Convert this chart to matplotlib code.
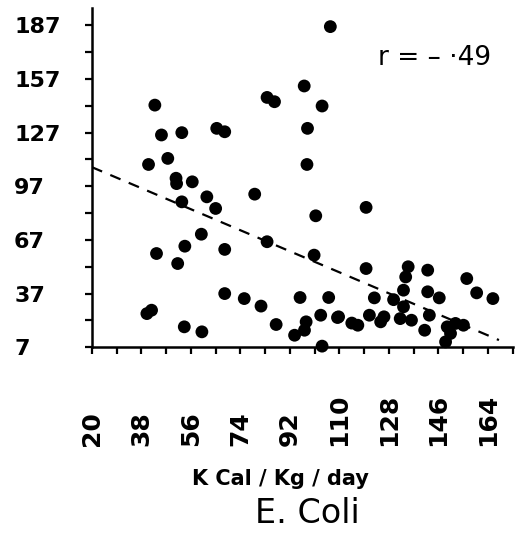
import matplotlib.pyplot as plt

# 数据: 每个点 (K Cal/Kg/day, 计数)
kcal = [106.7, 42.9, 45.3, 52.7, 40.6, 47.6, 50.6, 50.8, 56.5, 52.7,
        61.8, 65.0, 65.4, 68.3, 79.2, 83.7, 86.4, 97.2, 103.7, 98.4,
        98.2, 101.4, 119.7, 59.8, 43.5, 53.8, 51.2, 68.3, 83.7, 100.8,
        119.7, 135.0, 134.1, 142.1, 156.3, 159.9, 165.8, 142.1, 146.3, 133.3,
        129.7, 122.7, 133.3, 109.7, 116.7, 114.5, 120.9, 126.2, 125.0, 132.1,
        136.2, 142.7, 141.0, 149.2, 152.2, 155.1, 148.6, 150.4,
        40.0, 41.7, 53.6, 60.0, 68.3, 75.4, 81.5, 87.0, 95.7, 106.1,
        103.2, 109.3, 97.9, 97.3, 93.7, 103.7]
counts = [186.3, 142.4, 125.7, 127.0, 109.2, 112.6, 101.5, 98.5, 99.5, 88.3,
          91.1, 84.6, 129.4, 127.5, 92.6, 146.7, 144.3, 153.1, 141.9, 129.4,
          109.2, 80.5, 85.2, 70.2, 59.4, 63.5, 53.8, 61.7, 66.0, 58.5,
          51.0, 52.0, 46.3, 50.1, 45.4, 37.4, 34.2, 38.0, 34.6, 38.9,
          33.6, 34.6, 29.6, 24.0, 19.3, 20.5, 24.9, 24.0, 21.2, 23.0,
          22.1, 24.9, 16.5, 18.4, 20.3, 19.3, 10.0, 14.7,
          25.8, 27.7, 18.4, 15.6, 37.0, 34.2, 30.0, 19.7, 34.8, 34.8,
          24.9, 23.6, 21.2, 16.5, 13.7, 7.6]

# 回归线的两个端点
fit_x = [20, 168]
fit_y = [107.7, 11.0]

x_ticks = [20, 38, 56, 74, 92, 110, 128, 146, 164]
y_ticks = [7, 37, 67, 97, 127, 157, 187]

fig = plt.figure(figsize=(5.28, 5.35), dpi=100)
ax = fig.add_axes([0.174, 0.351, 0.797, 0.634])

# 散点
ax.scatter(kcal, counts, s=85, color='black', edgecolors='none', clip_on=False, zorder=3)

# 虚线 (回归线)
ax.plot(fit_x, fit_y, color='black', linewidth=1.6, dashes=(5, 4))

ax.set_xlim(20, 169.2)
ax.set_ylim(7, 196.7)

# 坐标轴样式
for side in ['top', 'right']:
    ax.spines[side].set_visible(False)
for side in ['left', 'bottom']:
    ax.spines[side].set_linewidth(1.8)

ax.set_xticks(x_ticks)
ax.set_xticks([t + 9 for t in x_ticks], minor=True)
ax.set_yticks(y_ticks)
ax.set_yticks([t + 15 for t in y_ticks[:-1]], minor=True)

ax.tick_params(axis='both', which='both', direction='out', length=5, width=1.6)
ax.tick_params(axis='y', which='major', pad=51)
ax.tick_params(axis='x', which='major', pad=66)

ax.set_yticklabels([str(t) for t in y_ticks], fontsize=16, fontweight='bold', ha='left')
ax.set_xticklabels([str(t) for t in x_ticks], fontsize=18, fontweight='bold',
                   rotation=90, va='bottom')

ax.set_xlabel('K Cal / Kg / day', fontsize=15, fontweight='bold')
ax.xaxis.set_label_coords(0.447, -0.36)

ax.text(0.679, 0.853, 'r = – ·49', transform=ax.transAxes, fontsize=19, va='center')

fig.text(0.583, 0.041, 'E. Coli', fontsize=24, ha='center', va='center')

fig.savefig('out.png', dpi=100)
